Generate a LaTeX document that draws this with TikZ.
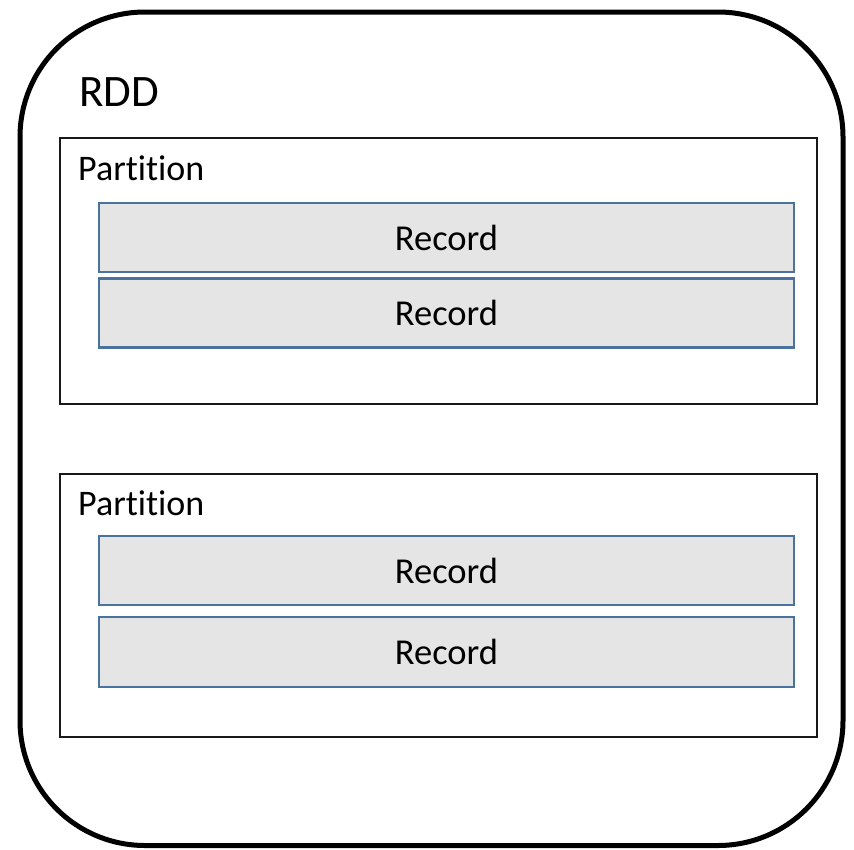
\documentclass[tikz,border=0pt]{standalone}
\usepackage{fontspec}
\setmainfont[Ligatures=NoCommon]{Carlito}
\begin{document}
\begin{tikzpicture}[x=1pt,y=-1pt,
  rddbox/.style={draw=black,line width=5pt,rounded corners=125pt},
  partbox/.style={draw=black!90,line width=2.8pt,fill=white},
  recbox/.style={draw=recblue,line width=2.6pt,fill=recgray,inner sep=0pt,minimum width=695pt},
  rectext/.style={font=\fontsize{36.5}{42}\selectfont,text=black},
  parttext/.style={font=\fontsize{36}{42}\selectfont,anchor=base west,inner sep=0pt},
]
\definecolor{recblue}{HTML}{4A729E}
\definecolor{recgray}{HTML}{E5E5E5}
\useasboundingbox (0,0) rectangle (854,849);
\fill[white] (0,0) rectangle (854,849);

% outer RDD container
\draw[rddbox] (20,12) rectangle (843,845.5);
\node[font=\fontsize{45}{52}\selectfont,anchor=base west,inner sep=0pt] (rdd) at (79,106) {RDD};

% first partition
\draw[partbox] (60,138) rectangle (817,404);
\node[parttext] (p1) at (78,180) {Partition};
\node[recbox,rectext,minimum height=69pt] (r1) at (446.5,237.5) {Record};
\node[recbox,rectext,minimum height=69pt] (r2) at (446.5,313) {Record};

% second partition
\draw[partbox] (60,474) rectangle (817,737);
\node[parttext] (p2) at (78,515) {Partition};
\node[recbox,rectext,minimum height=69pt] (r3) at (446.5,570.5) {Record};
\node[recbox,rectext,minimum height=70pt] (r4) at (446.5,652) {Record};
\end{tikzpicture}
\end{document}
